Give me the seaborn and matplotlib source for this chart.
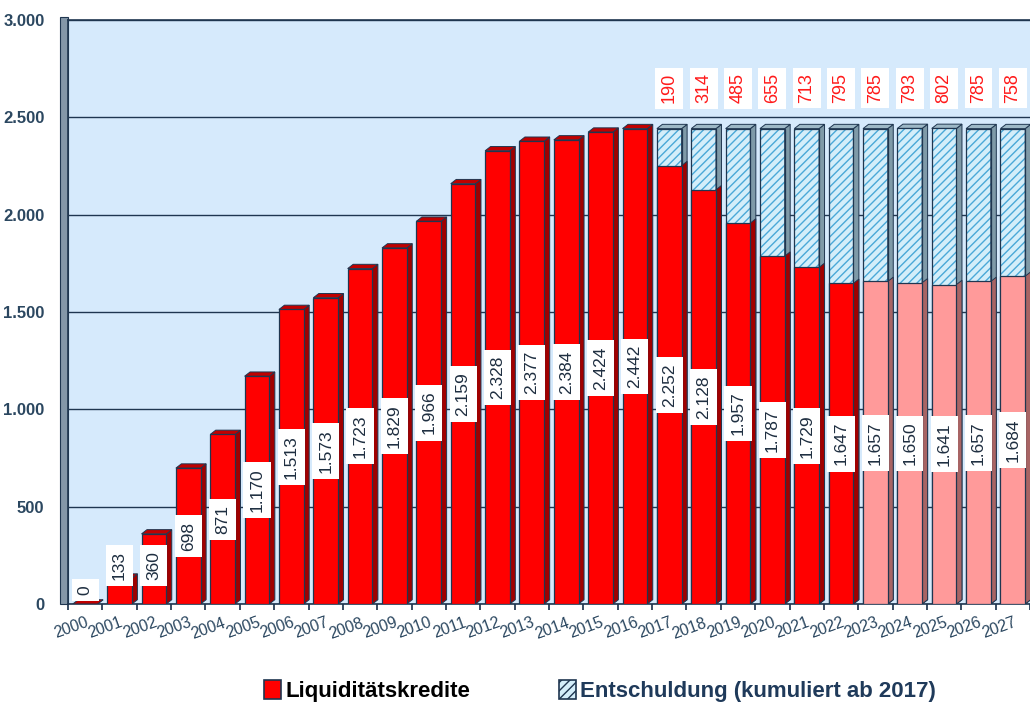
import numpy as np
import pandas as pd
import matplotlib.pyplot as plt
import seaborn as sns
from matplotlib.patches import Polygon, Patch, Rectangle

# ---------------------------------------------------
# Daten
# ---------------------------------------------------
jahre = [str(j) for j in range(2000, 2028)]
liquiditaet = [0, 133, 360, 698, 871, 1170, 1513, 1573, 1723, 1829, 1966, 2159, 2328, 2377,
               2384, 2424, 2442, 2252, 2128, 1957, 1787, 1729, 1647, 1657, 1650, 1641, 1657, 1684]
entschuldung_jahre = [str(j) for j in range(2017, 2028)]
entschuldung = [190, 314, 485, 655, 713, 795, 785, 793, 802, 785, 758]
prognose_ab = 2023
y_ticks = [0, 500, 1000, 1500, 2000, 2500, 3000]
y_labels = ['0', '500', '1.000', '1.500', '2.000', '2.500', '3.000']

df = pd.DataFrame({'Jahr': jahre, 'Liquiditätskredite': liquiditaet})
df['Entschuldung'] = df['Jahr'].map(dict(zip(entschuldung_jahre, entschuldung))).fillna(0)
df['Gesamt'] = np.where(df['Entschuldung'] > 0, df['Liquiditätskredite'] + df['Entschuldung'], 0)
df['Prognose'] = df['Jahr'].astype(int) >= prognose_ab

# ---------------------------------------------------
# Farben / Stil
# ---------------------------------------------------
rot, rot_seite, rot_top = '#FF0000', '#A00000', '#C00000'
rosa, rosa_seite, rosa_top = '#FF9A9A', '#A86464', '#C47878'
blau, blau_schraff, blau_seite, blau_top = '#D4EEFA', '#4AA8D8', '#7F9AA8', '#9DB8C6'
kante = '#1F3650'
hintergrund = '#D6EAFC'
textfarbe = '#2B4760'

sns.set_theme(style='white')
plt.rcParams['font.family'] = ['Liberation Sans', 'DejaVu Sans']
plt.rcParams['hatch.linewidth'] = 1.0

fig = plt.figure(figsize=(10.3, 7.05), dpi=100)
ax = fig.add_axes([68 / 1030, 101 / 705, 962 / 1030, 584 / 705])
ax.set_facecolor(hintergrund)

breite = 0.72
dx, dy = 0.16, 22


def dreid(x0, x1, unten, oben, f_seite, f_top, z, top=True):
    # Seitenfläche und Deckel für den 3D-Effekt
    ax.add_patch(Polygon([(x1, unten), (x1 + dx, unten + dy), (x1 + dx, oben + dy), (x1, oben)],
                         closed=True, fc=f_seite, ec=kante, lw=0.7, zorder=z))
    if top:
        ax.add_patch(Polygon([(x0, oben), (x0 + dx, oben + dy), (x1 + dx, oben + dy), (x1, oben)],
                             closed=True, fc=f_top, ec=kante, lw=0.7, zorder=z))


# Entschuldung (gestapelt = Gesamthöhe hinter den roten Balken)
sns.barplot(data=df, x='Jahr', y='Gesamt', color=blau, width=breite, ax=ax,
            edgecolor=blau_schraff, linewidth=0, hatch='////', zorder=2, saturation=1)
for p in list(ax.patches):
    if p.get_height() > 0:
        x0, x1 = p.get_x(), p.get_x() + p.get_width()
        ax.add_patch(Rectangle((x0, 0), p.get_width(), p.get_height(), fill=False,
                               ec=kante, lw=0.9, zorder=2.5))
        dreid(x0, x1, 0, p.get_height(), blau_seite, blau_top, 2.4)
n_blau = len(ax.patches)

# Liquiditätskredite
farben = [rosa if p else rot for p in df['Prognose']]
sns.barplot(data=df, x='Jahr', y='Liquiditätskredite', hue='Jahr', palette=farben,
            legend=False, width=breite, ax=ax, edgecolor=kante, linewidth=0.9,
            zorder=3, saturation=1)
rote = [p for p in ax.patches[n_blau:] if isinstance(p, Rectangle)]
for i, p in enumerate(rote):
    x0, x1 = p.get_x(), p.get_x() + p.get_width()
    h = p.get_height()
    prog = df['Prognose'].iloc[i]
    dreid(x0, x1, 0, h, rosa_seite if prog else rot_seite, rosa_top if prog else rot_top,
          2.8, top=df['Gesamt'].iloc[i] == 0)

# Wertelabels in den Balken
for i, v in enumerate(liquiditaet):
    txt = f'{v:,}'.replace(',', '.')
    y = max(v / 2, len(txt) * 62 + 10)
    ax.text(i, y, txt, rotation=90, ha='center', va='center', fontsize=12.5,
            color='#1E2E40', zorder=5,
            bbox=dict(boxstyle='square,pad=0.35', fc='white', ec='none'))

# Entschuldungswerte oben
for j, v in zip(entschuldung_jahre, entschuldung):
    i = jahre.index(j)
    ax.text(i, 2650, str(v), rotation=90, ha='center', va='center', fontsize=13,
            color='#FF1A1A', zorder=5,
            bbox=dict(boxstyle='square,pad=0.3', fc='white', ec='none'))

# ---------------------------------------------------
# Achsen
# ---------------------------------------------------
ax.set_xlim(-0.45, 27.35)
ax.set_ylim(0, 3000)
ax.set_yticks(y_ticks)
ax.set_yticklabels(y_labels, fontsize=12, color=textfarbe, fontweight='bold')
ax.yaxis.grid(True, color=kante, lw=1.0, zorder=0)
ax.set_axisbelow(True)
ax.set_xticks([i - 0.5 for i in range(len(jahre) + 1)])
ax.set_xticklabels([])
ax.set_xticks(range(len(jahre)), minor=True)
ax.set_xticklabels(jahre, minor=True, rotation=20, ha='right', rotation_mode='anchor',
                   fontsize=11.5, color=textfarbe)
ax.tick_params(axis='x', which='minor', length=0, pad=8)
ax.tick_params(axis='x', which='major', length=4, color=kante, direction='out', bottom=True)
ax.tick_params(axis='y', length=5, color=kante, direction='out', left=True, pad=12)
ax.set_xlabel('')
ax.set_ylabel('')

for s in ['right']:
    ax.spines[s].set_visible(False)
for s in ['top', 'bottom', 'left']:
    ax.spines[s].set_color(kante)
    ax.spines[s].set_linewidth(1.2)

# linke "Wand"
ax.add_patch(Rectangle((-0.008, 0), 0.008, 1.005, transform=ax.transAxes, fc='#8497A8',
                       ec=kante, lw=0.8, clip_on=False, zorder=1))

# ---------------------------------------------------
# Legende
# ---------------------------------------------------
griffe = [Patch(facecolor=rot, edgecolor=kante, lw=1.2),
          Patch(facecolor=blau, edgecolor=kante, hatch='////', lw=1.2)]
leg = fig.legend(griffe, ['Liquiditätskredite', 'Entschuldung (kumuliert ab 2017)'],
                 loc='center', bbox_to_anchor=(600 / 1030, 14 / 705), ncol=2, frameon=False,
                 prop={'size': 16, 'weight': 'bold'}, handlelength=0.75, handleheight=0.9,
                 handletextpad=0.2, columnspacing=4.0)
leg.get_texts()[0].set_color('black')
leg.get_texts()[1].set_color('#1F3A5A')

fig.savefig('out.png', dpi=100)
